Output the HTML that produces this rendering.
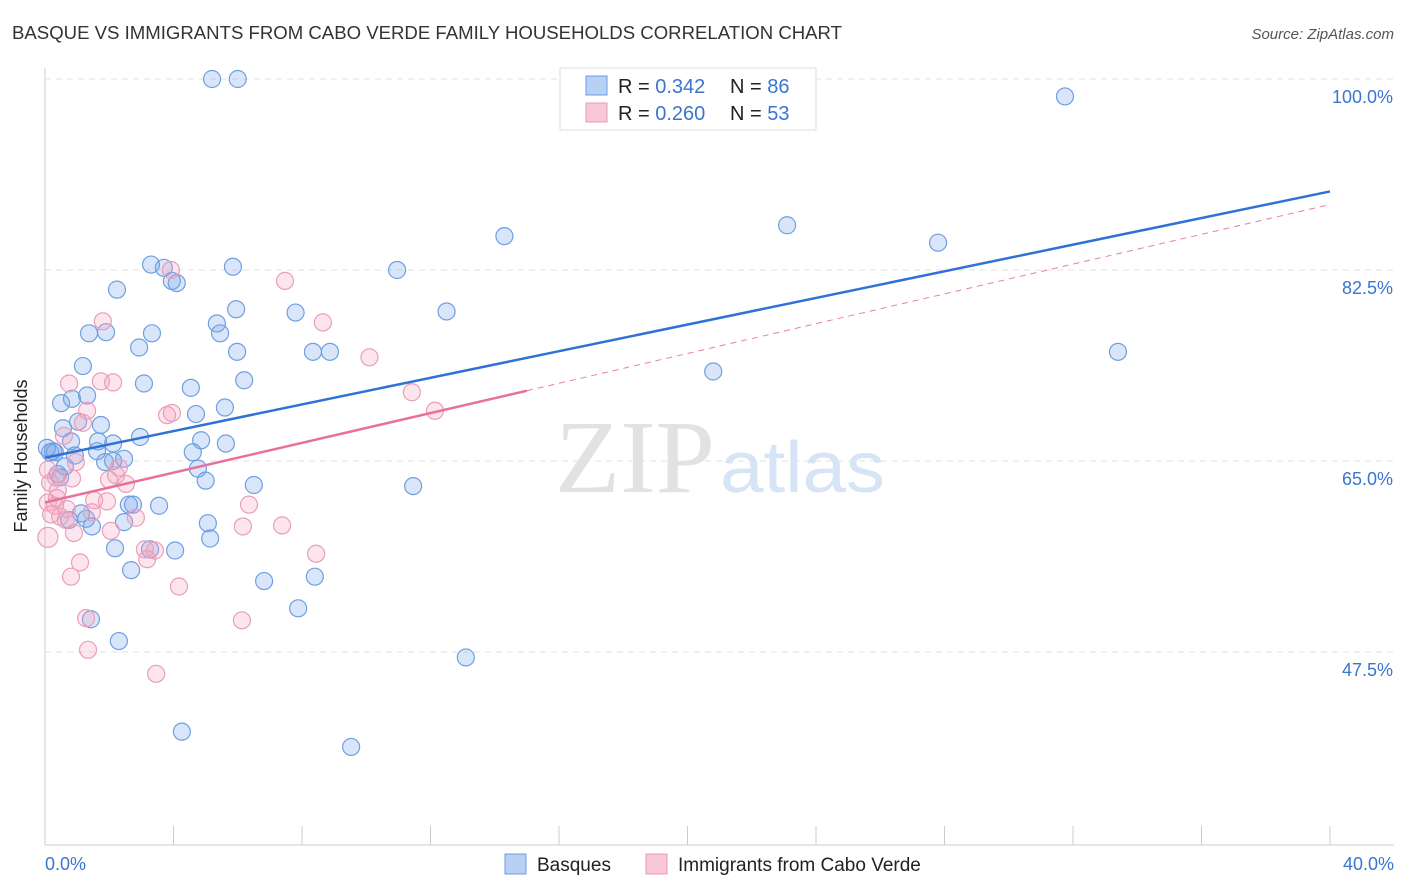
<!DOCTYPE html>
<html><head><meta charset="utf-8"><style>
body{margin:0;background:#fff;font-family:"Liberation Sans",sans-serif;}
svg{display:block}
</style></head><body>
<svg id="chart" width="1406" height="892" xmlns="http://www.w3.org/2000/svg">
<text x="12" y="39" font-size="18" fill="#333" textLength="830" lengthAdjust="spacingAndGlyphs">BASQUE VS IMMIGRANTS FROM CABO VERDE FAMILY HOUSEHOLDS CORRELATION CHART</text>
<text x="1394" y="39" font-size="15" fill="#555" font-style="italic" text-anchor="end">Source: ZipAtlas.com</text>
<g id="grid"></g>
<g><text x="555" y="492" font-family="Liberation Serif,serif" font-size="104" fill="#e2e2e2" textLength="160" lengthAdjust="spacingAndGlyphs">ZIP</text><text x="720" y="492" font-size="72" fill="#d6e4f5" textLength="165" lengthAdjust="spacingAndGlyphs">atlas</text></g>
<g id="axes"></g>
<g id="pts"></g>
<g id="lines"></g>
<text x="27" y="456" font-size="18" fill="#222" text-anchor="middle" transform="rotate(-90 27 456)">Family Households</text>
<g>
<rect x="560" y="68" width="256" height="62" fill="#fff" stroke="#ddd"/>
<rect x="586" y="76" width="21" height="19" fill="#b8d0f4" stroke="#6a9be0"/>
<rect x="586" y="103" width="21" height="19" fill="#f8c8d8" stroke="#e89ab5"/>
<text x="618" y="93" font-size="20" fill="#222">R = <tspan fill="#3a75d0">0.342</tspan><tspan x="730">N = </tspan><tspan fill="#3a75d0">86</tspan></text>
<text x="618" y="120" font-size="20" fill="#222">R = <tspan fill="#3a75d0">0.260</tspan><tspan x="730">N = </tspan><tspan fill="#3a75d0">53</tspan></text>
</g>
<g>
<rect x="505" y="854" width="21" height="20" fill="#b8d0f4" stroke="#6a9be0"/>
<text x="537" y="871" font-size="19" fill="#222">Basques</text>
<rect x="646" y="854" width="21" height="20" fill="#f8c8d8" stroke="#e89ab5"/>
<text x="678" y="871" font-size="19" fill="#222">Immigrants from Cabo Verde</text>
</g>
</svg>
<script>
const xTicks=[0,4,8,12,16,20,24,28,32,36,40];
const yTicks=[47.5,65,82.5,100];
const yTickLabels=["47.5%","65.0%","82.5%","100.0%"];
const xEndLabels=["0.0%","40.0%"];
const blueX=[5.2,6.0,31.75,14.3,23.1,27.8,3.3,3.7,5.85,10.96,3.95,4.1,2.24,5.95,7.8,12.5,5.35,5.45,1.37,1.9,3.33,2.93,5.98,8.34,8.87,33.4,1.18,20.8,6.2,3.08,4.54,0.5,0.84,1.31,5.6,4.7,1.03,1.74,0.56,2.96,4.86,1.65,2.12,0.81,5.63,0.25,0.16,4.6,0.93,1.62,2.46,1.87,2.12,0.62,4.76,0.4,5.0,6.5,11.46,2.74,3.55,2.61,1.12,0.75,1.28,1.46,2.46,5.07,5.14,2.18,3.27,4.05,2.68,6.82,8.4,7.88,1.43,2.3,13.1,4.26,9.53,0.06,0.31,0.47];
const blueY=[100,100,98.4,85.6,86.6,85.0,83.0,82.7,82.8,82.5,81.5,81.3,80.7,78.9,78.6,78.7,77.6,76.7,76.7,76.8,76.7,75.4,75.0,75.0,75.0,75.0,73.7,73.2,72.4,72.1,71.7,70.3,70.7,71.0,69.9,69.3,68.6,68.3,68.0,67.2,66.9,66.8,66.6,66.8,66.6,65.9,65.8,65.8,65.5,65.9,65.2,64.9,65.0,64.5,64.3,63.8,63.2,62.8,62.7,61.0,60.9,61.0,60.2,59.6,59.7,59.0,59.4,59.3,57.9,57.0,56.9,56.8,55.0,54.0,54.4,51.5,50.5,48.5,47.0,40.2,38.8,66.2,65.8,63.5];
const pinkX=[0.09,0.75,1.74,2.12,1.8,3.92,7.47,8.65,10.1,11.42,12.14,1.31,1.18,3.8,3.95,0.59,0.96,2.3,2.21,2.52,1.99,0.84,0.34,0.16,0.37,0.09,0.31,0.68,1.93,1.53,0.47,0.19,1.46,2.83,6.35,6.16,7.38,0.9,2.05,3.11,3.42,3.18,8.44,1.09,0.81,4.17,6.13,1.28,1.34,3.46,0.4,0.65,0.09];
const pinkY=[58.0,72.1,72.3,72.2,77.8,82.5,81.5,77.7,74.5,71.3,69.6,69.6,68.5,69.2,69.4,67.3,64.9,64.4,63.7,62.9,63.3,63.4,63.5,63.0,61.6,61.2,60.9,60.6,61.3,61.4,59.9,60.1,60.3,59.8,61.0,59.0,59.1,58.4,58.6,56.9,56.8,56.0,56.5,55.7,54.4,53.5,50.4,50.6,47.7,45.5,62.3,59.6,64.2];
const blueTrend=[65.3,89.7];
const pinkTrend=[61.2,88.5];
const pinkSolidEnd=15.0;

const NS="http://www.w3.org/2000/svg";
const X0=45,X1=1330,Y100=79,PXPER=10.914;
const sx=v=>X0+(v/40)*(X1-X0);
const sy=v=>Y100+(100-v)*PXPER;
function mk(tag,attrs,parent){const e=document.createElementNS(NS,tag);for(const k in attrs)e.setAttribute(k,attrs[k]);parent.appendChild(e);return e;}
const grid=document.getElementById('grid'),axes=document.getElementById('axes'),pts=document.getElementById('pts'),lines=document.getElementById('lines');
yTicks.forEach((t,i)=>{
 const l=mk('line',{x1:X0,x2:1394,y1:sy(t),y2:sy(t),stroke:'#e2e2e2','stroke-dasharray':'6,5'},grid);
 
 
 const tx=mk('text',{x:1393,y:sy(t)+24,'font-size':18,fill:'#3a75d0','text-anchor':'end'},axes);
 tx.textContent=yTickLabels[i];
 
 
});
const yl=mk('line',{x1:X0,x2:X0,y1:68,y2:845,stroke:'#ccc'},axes);


const xl=mk('line',{x1:X0,x2:1394,y1:845,y2:845,stroke:'#ccc'},axes);


xTicks.forEach(t=>{
 const l=mk('line',{x1:sx(t),x2:sx(t),y1:826,y2:845,stroke:'#ccc'},axes);
 
 
});
const xa=mk('text',{x:45,y:870,'font-size':18,fill:'#3a75d0'},axes);xa.textContent=xEndLabels[0];


const xb=mk('text',{x:1394,y:870,'font-size':18,fill:'#3a75d0','text-anchor':'end'},axes);xb.textContent=xEndLabels[1];


blueX.forEach((v,i)=>{
 const c=mk('circle',{cx:sx(v),cy:sy(blueY[i]),r:8.5,fill:'rgba(120,165,235,0.28)',stroke:'#6f9fe2','stroke-width':1.2},pts);
 
 
});
pinkX.forEach((v,i)=>{
 const c=mk('circle',{cx:sx(v),cy:sy(pinkY[i]),r:i==0?10:8.5,fill:'rgba(245,160,190,0.28)',stroke:'#eb9dba','stroke-width':1.2},pts);
 
 
});
const pAt=x=>pinkTrend[0]+(pinkTrend[1]-pinkTrend[0])*x/40;
const pd=mk('line',{x1:sx(pinkSolidEnd),y1:sy(pAt(pinkSolidEnd)),x2:sx(40),y2:sy(pinkTrend[1]),stroke:'#e87fa3','stroke-width':1,'stroke-dasharray':'6,5'},lines);


const ps=mk('line',{x1:sx(0),y1:sy(pinkTrend[0]),x2:sx(pinkSolidEnd),y2:sy(pAt(pinkSolidEnd)),stroke:'#e8719a','stroke-width':2.5},lines);


const bl=mk('line',{x1:sx(0),y1:sy(blueTrend[0]),x2:sx(40),y2:sy(blueTrend[1]),stroke:'#2f72d6','stroke-width':2.5},lines);


</script>
</body></html>
